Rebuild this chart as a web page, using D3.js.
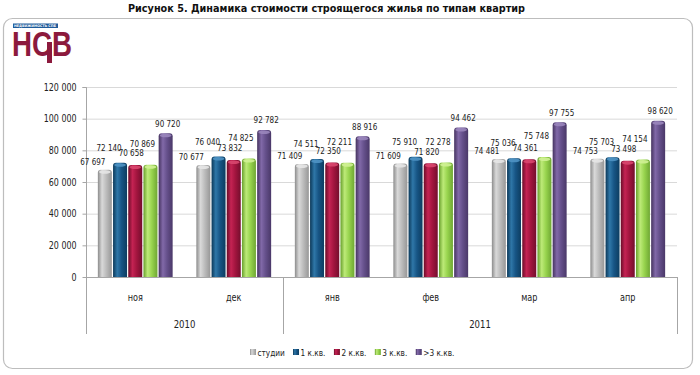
<!DOCTYPE html>
<html><head><meta charset="utf-8">
<script src="https://cdn.jsdelivr.net/npm/d3@7/dist/d3.min.js"></script>
<style>
html,body{margin:0;padding:0;background:#fff;}
svg{display:block;}
text{font-family:"DejaVu Sans Condensed","Liberation Sans",sans-serif;}
</style></head>
<body>
<svg id="c" width="700" height="375"></svg>
<script>
// ---- data ----
const title = "Рисунок 5. Динамика стоимости строящегося жилья по типам квартир";
const months = ["ноя","дек","янв","фев","мар","апр"];
const years = ["2010","2011"];
const monthsPerYear = [2,4];
const seriesNames = ["студии","1 к.кв.","2 к.кв.","3 к.кв.",">3 к.кв."];
const studio = [67697,70677,71409,71609,74481,74753];
const room1  = [72140,76040,74511,75910,75036,75703];
const room2  = [70658,73832,72350,71820,74361,73498];
const room3  = [70869,74825,72211,72278,75748,74154];
const room4p = [90720,92782,88916,94462,97755,98620];
const yTicks = [0,20000,40000,60000,80000,100000,120000];

const seriesValues = [studio,room1,room2,room3,room4p];

// ---- style ----
const colors = [
  ["#8c8c8c","#d9d9d9","#bcbcbc","#979797"],
  ["#0b3858","#2f77a8","#175585","#0d3d60"],
  ["#6a0c28","#c42353","#a3153f","#740e2d"],
  ["#68a02c","#bdea78","#98d44e","#6fa733"],
  ["#45335f","#8169a8","#65508b","#4a3868"]
];
const capColors = ["#e6e6e6","#4f93c4","#d9476f","#d0f195","#9a86bd"];
const labelDx = [-12,-11,-4,-8,2];
const labelDy = [8,15,12,21,10];

function squeeze(sel, k){
  sel.each(function(){
    const w = this.getComputedTextLength();
    d3.select(this).attr("textLength", (w*k).toFixed(2)).attr("lengthAdjust","spacingAndGlyphs");
  });
}

const svg = d3.select("#c");
const defs = svg.append("defs");
colors.forEach((c,i)=>{
  const g = defs.append("linearGradient").attr("id","g"+i).attr("x1","0").attr("x2","1").attr("y1","0").attr("y2","0");
  [[0,c[0]],[0.3,c[1]],[0.6,c[2]],[1,c[3]]].forEach(s=>g.append("stop").attr("offset",s[0]).attr("stop-color",s[1]));
});

// frame
svg.append("rect").attr("x",3.5).attr("y",18.5).attr("width",689).attr("height",350)
  .attr("rx",9).attr("fill","#fff").attr("stroke","#bdbdbd").attr("stroke-width",1.2);

// title
svg.append("text").attr("x",326.5).attr("y",11.5).attr("text-anchor","middle")
  .style("font-weight","bold").style("font-size","10.5px").attr("fill","#111")
  .attr("textLength",397).attr("lengthAdjust","spacingAndGlyphs").text(title);

// logo
const logo = svg.append("g");
logo.append("rect").attr("x",13).attr("y",23.5).attr("width",45).attr("height",4.5).attr("fill","#1f5b9a");
logo.append("text").attr("x",14).attr("y",27.2).style("font-size","3.6px").style("font-family","'DejaVu Sans',sans-serif")
  .style("font-weight","bold").attr("fill","#fff").attr("textLength",42).attr("lengthAdjust","spacingAndGlyphs").text("НЕДВИЖИМОСТЬ СПБ");
logo.append("text").attr("x",12).attr("y",56).attr("transform","translate(0,-14) scale(1,1.25)")
  .style("font-size","28px").style("font-family","'Liberation Sans',sans-serif")
  .style("font-weight","bold").attr("fill","#8c1a3d").attr("textLength",60).attr("lengthAdjust","spacingAndGlyphs").text("НСВ");
logo.append("rect").attr("x",47).attr("y",42).attr("width",5).attr("height",21).attr("fill","#8c1a3d");

// scales
const pLeft = 86, pRight = 677, pTop = 87, pBottom = 277;
const y = d3.scaleLinear().domain([0,120000]).range([pBottom,pTop]);
const x0 = d3.scaleBand().domain(months).range([pLeft,pRight]).padding(0);
const x1 = d3.scaleBand().domain(d3.range(seriesNames.length)).range([0,x0.bandwidth()])
  .paddingInner(0.08).paddingOuter(0.78);

const loc = d3.formatLocale({decimal:",",thousands:"\u00a0",grouping:[3],currency:["",""]});
const fmt = loc.format(",d");

// gridlines
svg.append("g").selectAll("line").data(yTicks.filter(d=>d>0)).join("line")
  .attr("x1",pLeft).attr("x2",pRight).attr("y1",d=>y(d)+0.5).attr("y2",d=>y(d)+0.5)
  .attr("stroke","#d9d9d9").attr("stroke-width",1);

// y axis
const yAxis = svg.append("g").attr("transform",`translate(${pLeft+0.5},0)`)
  .call(d3.axisLeft(y).tickValues(yTicks).tickSize(4).tickPadding(6).tickFormat(fmt));
yAxis.select(".domain").attr("stroke","#a6a6a6").attr("d",`M-4,${pTop+0.5}H0V${pBottom+57}`);
yAxis.selectAll(".tick line").attr("stroke","#a6a6a6");
yAxis.selectAll("text").style("font-size","10px").attr("fill","#222")
  .style("font-family","'DejaVu Sans Condensed',sans-serif");
squeeze(yAxis.selectAll("text"), 0.88);

// bars
const barsG = svg.append("g");
months.forEach((m,mi)=>{
  seriesValues.forEach((vals,si)=>{
    const v = vals[mi];
    const bx = x0(m)+x1(si), bw = x1.bandwidth(), by = y(v);
    const r = 3;
    barsG.append("path")
      .attr("d",`M${bx},${pBottom}V${by+r}Q${bx},${by} ${bx+r},${by}H${bx+bw-r}Q${bx+bw},${by} ${bx+bw},${by+r}V${pBottom}Z`)
      .attr("fill",`url(#g${si})`);
    barsG.append("ellipse").attr("cx",bx+bw/2).attr("cy",by+2.2).attr("rx",bw/2-1.2).attr("ry",1.8)
      .attr("fill",capColors[si]).attr("opacity",0.9);
  });
});

// bottom axis line
svg.append("line").attr("x1",pLeft).attr("x2",pRight).attr("y1",pBottom+0.5).attr("y2",pBottom+0.5).attr("stroke","#a6a6a6");

// data labels
const lblG = svg.append("g");
months.forEach((m,mi)=>{
  seriesValues.forEach((vals,si)=>{
    const v = vals[mi];
    const cx = x0(m)+x1(si)+x1.bandwidth()/2;
    lblG.append("text").attr("x",cx+labelDx[si]).attr("y",y(v)-labelDy[si]+3.3)
      .attr("text-anchor","middle").style("font-size","9.3px").attr("fill","#222").text(fmt(v));
  });
});
squeeze(lblG.selectAll("text"), 0.86);

// category labels
const catG = svg.append("g");
catG.selectAll("text").data(months).join("text")
  .attr("x",d=>x0(d)+x0.bandwidth()/2).attr("y",300.5).attr("text-anchor","middle")
  .style("font-size","10px").attr("fill","#222").text(d=>d);

// year groups
let acc = 0;
const bounds = [x0(months[0])];
years.forEach((yr,i)=>{
  const start = x0(months[acc]);
  acc += monthsPerYear[i];
  const end = acc < months.length ? x0(months[acc]) : pRight;
  bounds.push(end);
  catG.append("text").attr("x",(start+end)/2).attr("y",327.5).attr("text-anchor","middle")
    .style("font-size","10.5px").attr("fill","#222").text(yr);
});
squeeze(catG.selectAll("text"), 0.9);
svg.append("g").selectAll("line").data(bounds).join("line")
  .attr("x1",d=>Math.round(d)+0.5).attr("x2",d=>Math.round(d)+0.5).attr("y1",pBottom).attr("y2",334)
  .attr("stroke","#a6a6a6");

// legend
const lg = svg.append("g");
let lx = 0;
seriesNames.forEach((n,i)=>{
  const g = lg.append("g");
  g.append("rect").attr("x",0).attr("y",-3).attr("width",6).attr("height",6).attr("fill",`url(#g${i})`);
  const t = g.append("text").attr("x",7.5).attr("y",3.5).style("font-size","9.5px").attr("fill","#222").text(n);
  squeeze(t, 0.86);
  const w = 7.5 + t.node().getComputedTextLength()*0.86;
  g.attr("transform",`translate(${lx},352)`);
  lx += w + 12;
});
const totalW = lx - 12;
lg.attr("transform",`translate(${350 - totalW/2},0)`);
</script>
</body></html>
